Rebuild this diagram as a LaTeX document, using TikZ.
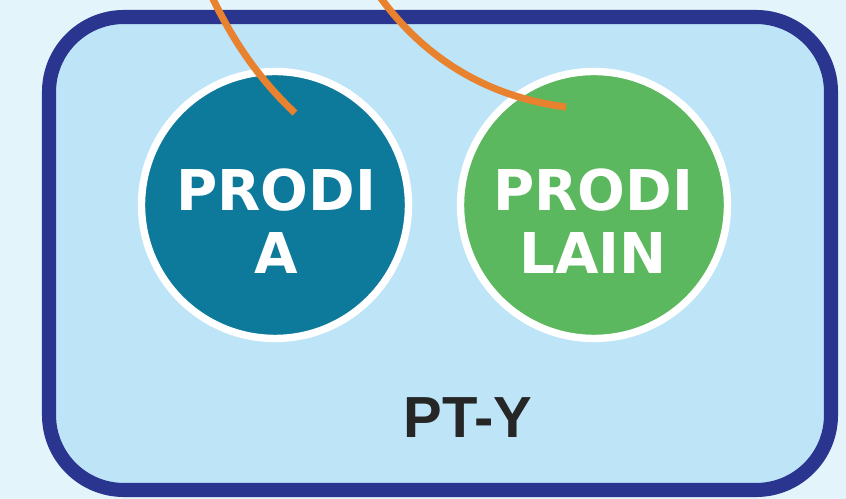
\documentclass[tikz,border=0pt]{standalone}
\usepackage{fontspec}
\newfontfamily\prodifont{DejaVu Sans}
\newfontfamily\ptfont{Liberation Sans}
\definecolor{latar}{HTML}{E4F4FB}
\definecolor{isiPT}{HTML}{BEE4F8}
\definecolor{biruTua}{HTML}{2A3590}
\definecolor{tosca}{HTML}{0D7A9C}
\definecolor{hijau}{HTML}{5CB85E}
\definecolor{jingga}{HTML}{E8822F}
\tikzset{
	prodi/.style={circle,draw=white,line width=4.2pt,minimum size=5.34cm,inner sep=0pt},
	teksprodi/.style={text=white,align=center,font=\prodifont\bfseries\fontsize{32}{36}\selectfont},
	garis/.style={jingga,line width=4pt}
}
\begin{document}
\begin{tikzpicture}[x=0.02cm,y=-0.02cm]
		% Sfondo e riquadro dell'ateneo
		\fill[latar] (0,0) rectangle (846,499);
		\useasboundingbox (0,0) rectangle (846,499);
		\draw[biruTua,fill=isiPT,line width=8pt,rounded corners=1.5cm] (49,17) rectangle (831,490);
		\node[font=\ptfont\bfseries\fontsize{33}{36}\selectfont,text=black!85] (pt) at (468,418) {PT-Y};

		% I due corsi di studio
		\node[prodi,fill=tosca] (prodiA) at (275,205) {};
		\node[prodi,fill=hijau] (prodiLain) at (594,205) {};
		\node[teksprodi] (teksA) at (276,221) {PRODI\\A};
		\node[teksprodi] (teksLain) at (593,221) {PRODI\\LAIN};

		% Collegamenti che arrivano dall'alto
		\coordinate (atasA) at (212,-3);
		\coordinate (ujungA) at (295,113);
		\coordinate (atasLain) at (380,-3);
		\coordinate (ujungLain) at (566,107);
		\draw[garis] (atasA) .. controls (235,45) and (262,82) .. (ujungA);
		\draw[garis] (atasLain) .. controls (420,52) and (480,96) .. (ujungLain);
	\end{tikzpicture}
\end{document}
